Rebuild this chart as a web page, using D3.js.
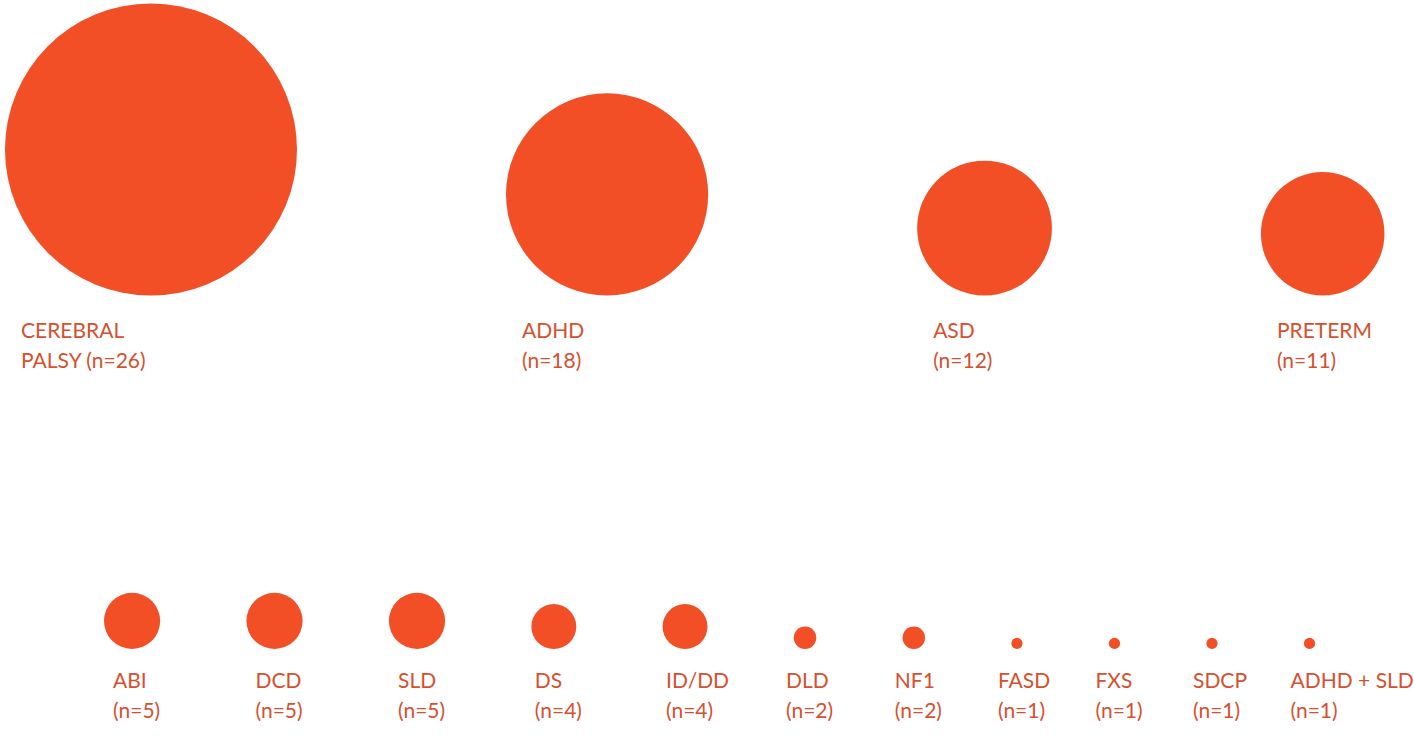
<!DOCTYPE html>
<html>
<head>
<meta charset="utf-8">
<script src="https://cdn.jsdelivr.net/npm/d3@7"></script>
<style>
  html, body { margin: 0; padding: 0; background: #ffffff; }
  svg { display: block; }
  text { font-family: "Lato", "Open Sans", sans-serif; font-size: 21px; fill: #d5502f; }
</style>
</head>
<body>
<svg id="chart" width="1414" height="740"></svg>
<script>
// ---- data ----
const topCategories = ["CEREBRAL PALSY", "ADHD", "ASD", "PRETERM"];
const topCounts = [26, 18, 12, 11];
const topLabelLines = [["CEREBRAL", "PALSY (n=26)"], ["ADHD", "(n=18)"], ["ASD", "(n=12)"], ["PRETERM", "(n=11)"]];

const bottomCategories = ["ABI", "DCD", "SLD", "DS", "ID/DD", "DLD", "NF1", "FASD", "FXS", "SDCP", "ADHD + SLD"];
const bottomCounts = [5, 5, 5, 4, 4, 2, 2, 1, 1, 1, 1];

// ---- drawing ----
const W = 1414, H = 740;
const svg = d3.select("#chart");
const FILL = "#f24f27";

// circle radius proportional to count
const r = d3.scaleLinear().domain([0, 26]).range([0, 146]);

function layoutRow(names, counts, startX, gap) {
  let x = startX;
  return names.map((name, i) => {
    const rad = r(counts[i]);
    const cx = x + rad;
    x += 2 * rad + gap;
    return { name, n: counts[i], r: rad, cx, left: cx - rad };
  });
}

const topRow = layoutRow(topCategories, topCounts, 5, 209);
const bottomRow = layoutRow(bottomCategories, bottomCounts, 104, 86.3);

const topBase = 295.5, bottomBase = 649;

// top row circles
svg.append("g").selectAll("circle").data(topRow).join("circle")
  .attr("cx", d => d.cx).attr("cy", d => topBase - d.r).attr("r", d => d.r)
  .attr("fill", FILL);

// top row labels
const tl = svg.append("g").selectAll("text").data(topRow).join("text")
  .attr("x", d => d.left + 16).attr("y", 338);
tl.each(function(d, i) {
  const t = d3.select(this);
  topLabelLines[i].forEach((line, j) => {
    t.append("tspan").attr("x", d.left + 16).attr("y", 338 + j * 30).text(line);
  });
});

// bottom row circles
svg.append("g").selectAll("circle").data(bottomRow).join("circle")
  .attr("cx", d => d.cx).attr("cy", d => bottomBase - d.r).attr("r", d => d.r)
  .attr("fill", FILL);

// bottom row labels
const bl = svg.append("g").selectAll("text").data(bottomRow).join("text");
bl.each(function(d) {
  const t = d3.select(this);
  const lx = d.cx - 19;
  t.append("tspan").attr("x", lx).attr("y", 688).text(d.name);
  t.append("tspan").attr("x", lx).attr("y", 718).text("(n=" + d.n + ")");
});
</script>
</body>
</html>
